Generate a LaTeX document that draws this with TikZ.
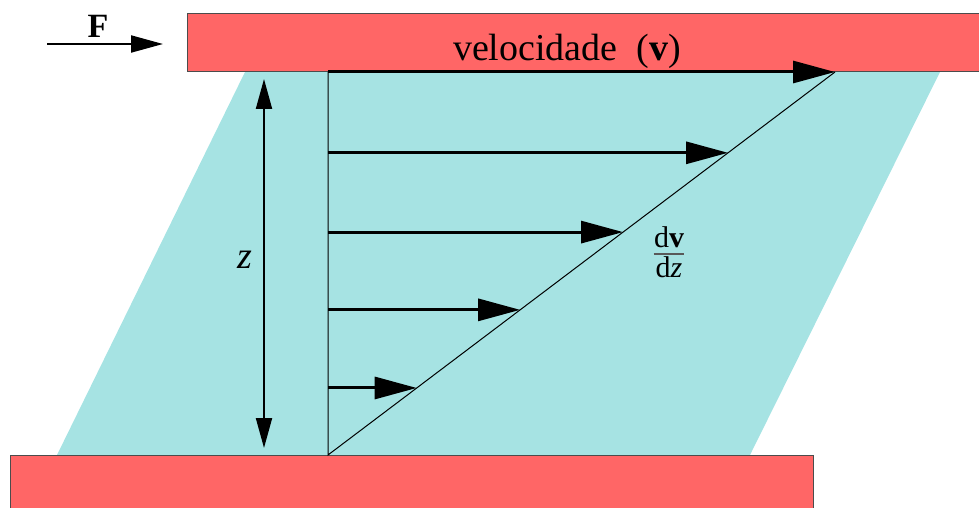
\documentclass[tikz,border=0pt]{standalone}
\usepackage{fontspec}
\setmainfont{LiberationSerif}[Extension=.ttf,UprightFont=*-Regular,BoldFont=*-Bold,ItalicFont=*-Italic,BoldItalicFont=*-BoldItalic]
\usetikzlibrary{arrows.meta,calc}
\definecolor{cPlate}{HTML}{FF6666}
\definecolor{cFluid}{HTML}{A6E3E3}
\definecolor{cInk}{HTML}{000000}
\begin{document}
\begin{tikzpicture}[
  x=0.5pt,y=-0.5pt,
  font=\rmfamily\fontsize{19}{22}\selectfont,
  plate/.style={draw=cInk!70,line width=0.5pt,fill=cPlate},
  fluid/.style={fill=cFluid},
  guide/.style={draw=cInk,line width=0.5pt},
  vel/.style={-{Triangle[length=21pt,width=11pt]},line width=1.5pt,cInk},
  gauge/.style={{Triangle[length=15pt,width=8pt]}-{Triangle[length=15pt,width=8pt]},line width=1pt,cInk},
  push/.style={-{Triangle[length=16pt,width=8.5pt]},line width=1pt,cInk},
  lbl/.style={anchor=base,inner sep=0pt,text=cInk}
]
\path[use as bounding box,clip] (0,0) rectangle (979,508);

% fluid layer and the two plates
\fill[fluid] (57,455) -- (245,72) -- (940,72) -- (750,455) -- cycle;
\draw[plate] (187,14) rectangle (1000,72);
\draw[plate] (10,455) rectangle (813,530);

\coordinate (o) at (328,455);
\coordinate (top) at (328,72);
\coordinate (tip) at (835,72);
\draw[guide] (top) -- (o) -- (tip);

% velocity profile
\draw[vel] ($(o)!0.175!(top)$) -- ($(o)!0.175!(tip)$);
\draw[vel] ($(o)!0.379!(top)$) -- ($(o)!0.379!(tip)$);
\draw[vel] ($(o)!0.582!(top)$) -- ($(o)!0.582!(tip)$);
\draw[vel] ($(o)!0.789!(top)$) -- ($(o)!0.789!(tip)$);
\draw[vel] (top) -- (tip);

\node[lbl] (vlab) at (567,61) {velocidade\ \ (\textbf{v})};

% gradient, set as a stacked fraction
\node[lbl,font=\rmfamily\fontsize{15}{18}\selectfont] (num) at (669,247) {d\textbf{v}};
\node[lbl,font=\rmfamily\fontsize{15}{18}\selectfont] (den) at (669,277) {d\textit{z}};
\draw[cInk!65,line width=1pt] ([yshift=-3pt]num.south west) -- ([yshift=-3pt]num.south east);

% gap height
\coordinate (zt) at (264,79);
\coordinate (zb) at (264,448);
\draw[gauge] (zt) -- (zb);
\node[lbl] (zlab) at (245,268) {\textit{z}};

% applied force
\coordinate (fs) at (47,44);
\coordinate (fe) at (163,44);
\draw[push] (fs) -- (fe);
\node[lbl,font=\rmfamily\fontsize{17}{20}\selectfont\bfseries] (flab) at (98,38) {F};

\end{tikzpicture}
\end{document}
